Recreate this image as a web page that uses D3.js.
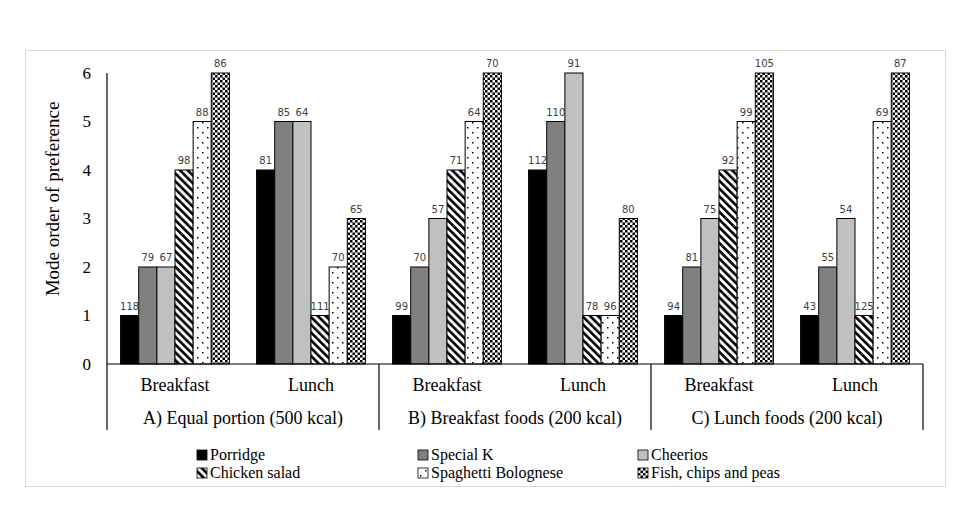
<!DOCTYPE html>
<html>
<head>
<meta charset="utf-8">
<script src="https://cdn.jsdelivr.net/npm/d3@7"></script>
<style>
  html, body { margin: 0; padding: 0; background: #fff; }
  svg { display: block; }
</style>
</head>
<body>
<svg id="chart" width="976" height="505"></svg>
<script>
// ---- data ----
const groups = ["A) Equal portion (500 kcal)", "B) Breakfast foods (200 kcal)", "C) Lunch foods (200 kcal)"];
const meals = ["Breakfast", "Lunch"];
const seriesNames = ["Porridge", "Special K", "Cheerios", "Chicken salad", "Spaghetti Bolognese", "Fish, chips and peas"];
// order of values: A-Breakfast, A-Lunch, B-Breakfast, B-Lunch, C-Breakfast, C-Lunch
const porridge  = [1, 4, 1, 4, 1, 1];
const specialK  = [2, 5, 2, 5, 2, 2];
const cheerios  = [2, 5, 3, 6, 3, 3];
const chicken   = [4, 1, 4, 1, 4, 1];
const spaghetti = [5, 2, 5, 1, 5, 5];
const fish      = [6, 3, 6, 3, 6, 6];
const porridgeN  = [118, 81, 99, 112, 94, 43];
const specialKN  = [79, 85, 70, 110, 81, 55];
const cheeriosN  = [67, 64, 57, 91, 75, 54];
const chickenN   = [98, 111, 71, 78, 92, 125];
const spaghettiN = [88, 70, 64, 96, 99, 69];
const fishN      = [86, 65, 70, 80, 105, 87];
const yTicks = [0, 1, 2, 3, 4, 5, 6];

const seriesValues = [porridge, specialK, cheerios, chicken, spaghetti, fish];
const seriesCounts = [porridgeN, specialKN, cheeriosN, chickenN, spaghettiN, fishN];

// ---- setup ----
const svg = d3.select("#chart");
const serif = "Liberation Serif";

// patterns
const defs = svg.append("defs");
const pStripe = defs.append("pattern").attr("id", "p-stripe")
  .attr("patternUnits", "userSpaceOnUse").attr("width", 5.5).attr("height", 10)
  .attr("patternTransform", "rotate(-45)");
pStripe.append("rect").attr("width", 5.5).attr("height", 10).attr("fill", "#fff");
pStripe.append("rect").attr("width", 2.6).attr("height", 10).attr("fill", "#000");

const pDot = defs.append("pattern").attr("id", "p-dot")
  .attr("patternUnits", "userSpaceOnUse").attr("width", 10).attr("height", 10);
pDot.append("rect").attr("width", 10).attr("height", 10).attr("fill", "#fff");
pDot.append("rect").attr("x", 2).attr("y", 2).attr("width", 1.5).attr("height", 1.5).attr("fill", "#000");
pDot.append("rect").attr("x", 7).attr("y", 7).attr("width", 1.5).attr("height", 1.5).attr("fill", "#000");

const pCheck = defs.append("pattern").attr("id", "p-check")
  .attr("patternUnits", "userSpaceOnUse").attr("width", 5).attr("height", 5);
pCheck.append("rect").attr("width", 5).attr("height", 5).attr("fill", "#fff");
pCheck.append("rect").attr("x", 0).attr("y", 0).attr("width", 2.5).attr("height", 2.5).attr("fill", "#000");
pCheck.append("rect").attr("x", 2.5).attr("y", 2.5).attr("width", 2.5).attr("height", 2.5).attr("fill", "#000");

const fills = ["#000000", "#808080", "#c0c0c0", "url(#p-stripe)", "url(#p-dot)", "url(#p-check)"];

// outer chart border
svg.append("rect").attr("x", 25.5).attr("y", 50.5).attr("width", 920).attr("height", 436)
  .attr("fill", "none").attr("stroke", "#d9d9d9").attr("stroke-width", 1);

// scales
const xGroup = d3.scaleBand().domain(groups).range([107, 923]).padding(0);
const xMeal = d3.scaleBand().domain(meals).range([0, xGroup.bandwidth()]).padding(0);
const xSeries = d3.scaleBand().domain(seriesNames).range([0, xMeal.bandwidth()])
  .paddingInner(0).paddingOuter(0.75);
const y = d3.scaleLinear().domain([0, 6]).range([364, 73]);

// y axis labels
const yAxis = d3.axisLeft(y).tickValues(yTicks).tickSize(0).tickPadding(0).tickFormat(d3.format("d"));
const yg = svg.append("g").attr("transform", "translate(91,0)").call(yAxis);
yg.select(".domain").remove();
yg.selectAll("text").attr("font-family", serif).attr("font-size", 17).attr("fill", "#000")
  .attr("text-anchor", "end").attr("dy", "0.32em");

// y title
svg.append("text").attr("transform", "translate(59,199) rotate(-90)")
  .attr("text-anchor", "middle").attr("font-family", serif).attr("font-size", 19)
  .attr("fill", "#000").text("Mode order of preference");

// bars
const cells = [];
groups.forEach((g, gi) => meals.forEach((m, mi) => {
  const idx = gi * 2 + mi;
  seriesNames.forEach((s, si) => {
    cells.push({ g, m, s, si, v: seriesValues[si][idx], n: seriesCounts[si][idx] });
  });
}));
const xPos = d => xGroup(d.g) + xMeal(d.m) + xSeries(d.s);

svg.append("g").selectAll("rect").data(cells).join("rect")
  .attr("x", xPos)
  .attr("y", d => y(d.v))
  .attr("width", xSeries.bandwidth())
  .attr("height", d => y(0) - y(d.v))
  .attr("fill", d => fills[d.si])
  .attr("stroke", "#000").attr("stroke-width", 1);

// data labels
svg.append("g").selectAll("text").data(cells).join("text")
  .attr("x", d => xPos(d) + xSeries.bandwidth() / 2)
  .attr("y", d => y(d.v) - 6)
  .attr("text-anchor", "middle")
  .attr("font-family", "DejaVu Sans").attr("font-size", 10)
  .attr("fill", "#404040")
  .text(d => d.n);

// axes lines
const axisG = svg.append("g").attr("stroke", "#000").attr("stroke-width", 1.2);
axisG.append("line").attr("x1", 107).attr("x2", 107).attr("y1", 73).attr("y2", 430);
axisG.append("line").attr("x1", 107).attr("x2", 923).attr("y1", 364).attr("y2", 364);
groups.forEach(g => {
  const xe = xGroup(g) + xGroup.bandwidth();
  axisG.append("line").attr("x1", xe).attr("x2", xe).attr("y1", 364).attr("y2", 430);
});

// category labels
const mealLabels = [];
groups.forEach(g => meals.forEach(m => mealLabels.push({ g, m })));
svg.append("g").selectAll("text").data(mealLabels).join("text")
  .attr("x", d => xGroup(d.g) + xMeal(d.m) + xMeal.bandwidth() / 2)
  .attr("y", 391)
  .attr("text-anchor", "middle").attr("font-family", serif).attr("font-size", 18)
  .attr("fill", "#000").text(d => d.m);

svg.append("g").selectAll("text").data(groups).join("text")
  .attr("x", d => xGroup(d) + xGroup.bandwidth() / 2)
  .attr("y", 424)
  .attr("text-anchor", "middle").attr("font-family", serif).attr("font-size", 18)
  .attr("fill", "#000").text(d => d);

// legend
const legX = [197, 418, 638];
const legY = [455, 473];
const leg = svg.append("g").selectAll("g").data(seriesNames).join("g")
  .attr("transform", (d, i) => `translate(${legX[i % 3]},${legY[Math.floor(i / 3)]})`);
leg.append("rect").attr("x", 0).attr("y", -5).attr("width", 10).attr("height", 10)
  .attr("fill", (d, i) => fills[i]).attr("stroke", "#000").attr("stroke-width", 0.8);
leg.append("text").attr("x", 13).attr("y", 0).attr("dy", "0.34em")
  .attr("font-family", serif).attr("font-size", 16).attr("fill", "#000").text(d => d);
</script>
</body>
</html>
